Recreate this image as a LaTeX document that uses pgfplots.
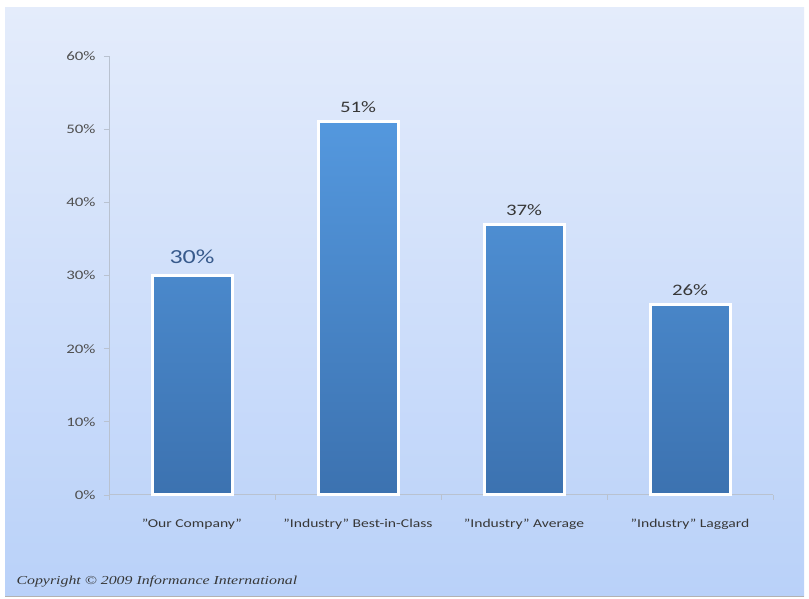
\documentclass[border=0pt]{standalone}
\usepackage{pgfplots}
\pgfplotsset{compat=1.18}
\usepackage{fontspec}
\setmainfont{Carlito}[FakeStretch=1.3]
\newfontfamily\copyfont{Liberation Serif}[FakeStretch=1.3]
\definecolor{bgtop}{RGB}{228,236,251}
\definecolor{bgbot}{RGB}{185,209,249}
\definecolor{bartop}{RGB}{84,152,222}
\definecolor{barbot}{RGB}{60,114,176}
\definecolor{axgray}{RGB}{185,194,208}
\definecolor{ticktxt}{RGB}{80,80,80}
\definecolor{labtxt}{RGB}{55,55,55}
\definecolor{labblue}{RGB}{55,90,140}
\begin{document}
\begin{tikzpicture}
\fill[white] (0pt,0pt) rectangle (809pt,599pt);
\shade[top color=bgtop, bottom color=bgbot] (5pt,2pt) rectangle (804pt,591pt);
\draw[gray!60, line width=1pt] (5pt,2pt) -- (804pt,2pt);
\begin{axis}[
  at={(109pt,104pt)}, anchor=south west,
  scale only axis, width=664pt, height=439pt,
  xmin=-0.5, xmax=3.5, ymin=0, ymax=60,
  axis x line*=bottom, axis y line*=left,
  axis line style={axgray, line width=1pt, -},
  xtick={0,1,2,3},
  xticklabels={"Our Company", "Industry" Best-in-Class, "Industry" Average, "Industry" Laggard},
  ytick={0,10,...,60},
  yticklabel={\pgfmathprintnumber{\tick}\%},
  /pgf/number format/assume math mode=true,
  major tick length=0pt,
  minor tick length=5pt,
  tick align=outside,
  minor xtick={-0.5,0.5,1.5,2.5,3.5},
  minor ytick={0,10,...,60},
  tick style={axgray, line width=0.8pt},
  minor tick style={axgray, line width=0.8pt},
  yticklabel style={font=\fontsize{13}{13}\selectfont, text=ticktxt, xshift=-10pt},
  xticklabel style={font=\fontsize{12}{12}\selectfont, text=labtxt, yshift=-21pt},
  ybar, bar width=80pt, bar shift=0pt,
  point meta=explicit symbolic,
  nodes near coords,
  every node near coord/.append style={font=\fontsize{16}{16}\selectfont, text=labtxt, yshift=4pt},
  clip=false,
]
\addplot[draw=white, line width=3pt, top color=bartop, bottom color=barbot]
  coordinates {(0,30) [{\raisebox{3pt}{\fontsize{20}{20}\selectfont\color{labblue}30\%}}] (1,51) [51\%] (2,37) [37\%] (3,26) [26\%]};
\end{axis}
\node[anchor=west, font=\copyfont\itshape\fontsize{12.2}{12.2}\selectfont, text=labtxt] at (13pt,17pt) {Copyright © 2009 Informance International};
\end{tikzpicture}
\end{document}
